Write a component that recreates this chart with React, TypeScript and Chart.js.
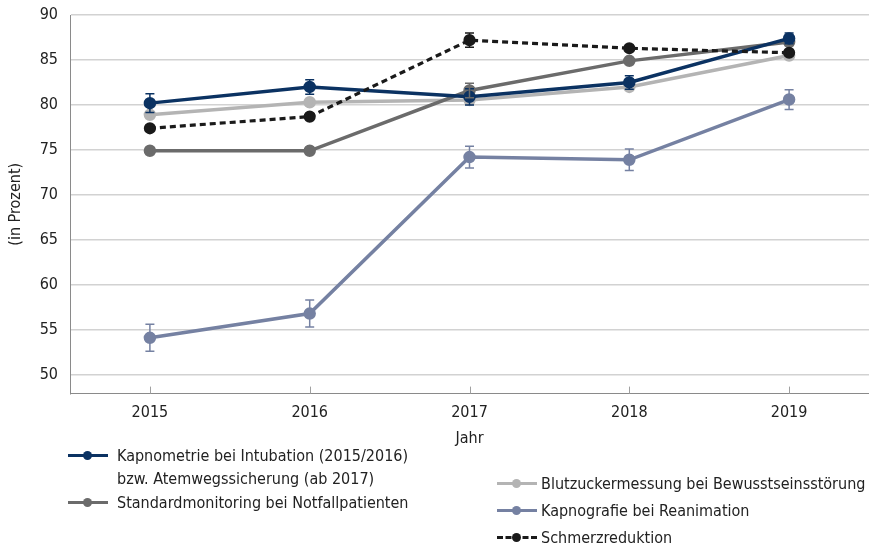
import React, { useEffect, useRef } from "react";
import { Chart, registerables } from "chart.js";

Chart.register(...registerables);

const FONT = '"Liberation Sans Narrow", "DejaVu Sans Condensed", "Noto Sans", sans-serif';

const years = ["2015", "2016", "2017", "2018", "2019"];
const yTickValues = [50, 55, 60, 65, 70, 75, 80, 85, 90];

const kapnometrie = [80.2, 82.0, 80.9, 82.5, 87.4];
const kapnometrieErr = [1.05, 0.8, 0.9, 0.75, 0.6];
const blutzucker = [78.9, 80.3, 80.55, 82.0, 85.5];
const blutzuckerErr = [0, 0, 0, 0, 0];
const standard = [74.9, 74.9, 81.6, 84.9, 87.0];
const standardErr = [0, 0, 0.8, 0, 0];
const kapnografie = [54.1, 56.8, 74.2, 73.9, 80.6];
const kapnografieErr = [1.5, 1.5, 1.2, 1.2, 1.1];
const schmerz = [77.4, 78.7, 87.2, 86.3, 85.8];
const schmerzErr = [0.3, 0.3, 0.8, 0.3, 0.3];

const C_NAVY = "#0b3262";
const C_LIGHT = "#b4b4b4";
const C_GRAY = "#6b6b6b";
const C_BLUE = "#7581a2";
const C_BLACK = "#1a1a1a";

const errorBarPlugin = {
  id: "errorBars",
  afterDatasetsDraw(chart: any) {
    const ctx = chart.ctx;
    const y = chart.scales.y;
    chart.data.datasets.forEach((ds: any, i: number) => {
      const meta = chart.getDatasetMeta(i);
      if (!ds.errors) return;
      ctx.save();
      ctx.strokeStyle = ds.errColor || ds.borderColor;
      ctx.lineWidth = 1.5;
      ctx.setLineDash([]);
      meta.data.forEach((pt: any, j: number) => {
        const e = ds.errors[j];
        if (!e) return;
        const v = ds.data[j];
        const yt = y.getPixelForValue(v + e);
        const yb = y.getPixelForValue(v - e);
        const x = pt.x;
        ctx.beginPath();
        ctx.moveTo(x, yt);
        ctx.lineTo(x, yb);
        ctx.moveTo(x - 4.5, yt);
        ctx.lineTo(x + 4.5, yt);
        ctx.moveTo(x - 4.5, yb);
        ctx.lineTo(x + 4.5, yb);
        ctx.stroke();
      });
      ctx.restore();
    });
  },
};

const innerTicksPlugin = {
  id: "innerTicks",
  afterDraw(chart: any) {
    const ctx = chart.ctx;
    const xs = chart.scales.x;
    const bottom = chart.chartArea.bottom;
    ctx.save();
    ctx.strokeStyle = "#a0a0a0";
    ctx.lineWidth = 1;
    years.forEach((_, i) => {
      const x = Math.round(xs.getPixelForValue(i)) + 0.5;
      ctx.beginPath();
      ctx.moveTo(x, bottom - 7);
      ctx.lineTo(x, bottom);
      ctx.stroke();
    });
    ctx.restore();
  },
};

function LegendItem(props: { x: number; y: number; color: string; dashed?: boolean; textOffset: number; lines: string[] }) {
  const { x, y, color, dashed, lines, textOffset } = props;
  return (
    <div style={{ position: "absolute", left: x, top: y - 12, height: 24 }}>
      <div
        style={{
          position: "absolute",
          left: 0,
          top: 11,
          width: 40,
          height: 0,
          borderTop: dashed ? `3px dashed ${color}` : `3px solid ${color}`,
        }}
      />
      <div
        style={{
          position: "absolute",
          left: 15,
          top: 8,
          width: 9,
          height: 9,
          borderRadius: "50%",
          background: color,
        }}
      />
      <div
        style={{
          position: "absolute",
          left: textOffset,
          top: 1,
          whiteSpace: "nowrap",
          fontFamily: FONT,
          fontSize: 16,
          lineHeight: "23px",
          color: "#222",
        }}
      >
        {lines.map((l, k) => (
          <div key={k}>{l}</div>
        ))}
      </div>
    </div>
  );
}

export default function App() {
  const ref = useRef<HTMLCanvasElement>(null);
  useEffect(() => {
    if (!ref.current) return;
    const mk = (label: string, data: number[], errors: number[], color: string, extra: any = {}) => ({
      label,
      data,
      errors,
      borderColor: color,
      backgroundColor: color,
      pointBackgroundColor: color,
      pointBorderColor: color,
      borderWidth: 3.5,
      pointRadius: 4.5,
      pointHoverRadius: 4.5,
      tension: 0,
      fill: false,
      ...extra,
    });
    const chart = new Chart(ref.current, {
      type: "line",
      data: {
        labels: years,
        datasets: [
          mk("Schmerzreduktion", schmerz, schmerzErr, C_BLACK, { borderDash: [6, 4], borderWidth: 3.2 }),
          mk("Kapnometrie bei Intubation (2015/2016) bzw. Atemwegssicherung (ab 2017)", kapnometrie, kapnometrieErr, C_NAVY),
          mk("Standardmonitoring bei Notfallpatienten", standard, standardErr, C_GRAY),
          mk("Blutzuckermessung bei Bewusstseinsstörung", blutzucker, blutzuckerErr, C_LIGHT),
          mk("Kapnografie bei Reanimation", kapnografie, kapnografieErr, C_BLUE),
        ],
      },
      options: {
        animation: false,
        responsive: false,
        maintainAspectRatio: false,
        layout: { padding: { top: 15, right: 0, left: 0, bottom: 93 } },
        plugins: {
          legend: { display: false },
          tooltip: { enabled: false },
        },
        scales: {
          x: {
            offset: true,
            afterFit: (s: any) => {
              s.paddingLeft = 0;
              s.paddingRight = 0;
            },
            grid: { display: false, drawTicks: false },
            border: { display: true, color: "#8a8a8a", width: 1 },
            ticks: { color: "#222", font: { family: FONT, size: 16 }, padding: 10 },
            title: {
              display: true,
              text: "Jahr",
              color: "#222",
              font: { family: FONT, size: 16 },
              padding: { top: -4, bottom: 4 },
            },
          },
          y: {
            min: 47.9,
            max: 90,
            afterBuildTicks: (s: any) => {
              s.ticks = yTickValues.map((v) => ({ value: v }));
            },
            afterFit: (s: any) => {
              s.width = 70;
              s.paddingTop = 0;
              s.paddingBottom = 0;
            },
            grid: { color: "#d2d2d2", lineWidth: 1.5, drawTicks: false },
            border: { display: true, color: "#8a8a8a", width: 1 },
            ticks: { color: "#222", font: { family: FONT, size: 16 }, padding: 12 },
            title: {
              display: true,
              text: "(in Prozent)",
              color: "#222",
              font: { family: FONT, size: 16 },
              padding: { top: 6, bottom: 0 },
            },
          },
        },
      },
      plugins: [errorBarPlugin, innerTicksPlugin],
    } as any);
    return () => chart.destroy();
  }, []);

  return (
    <div style={{ position: "absolute", left: 0, top: 0, width: 869, height: 545, background: "#fff", overflow: "hidden" }}>
      <canvas ref={ref} width={877} height={545} style={{ width: 877, height: 545, display: "block" }} />
      <LegendItem x={68} y={455} color={C_NAVY} textOffset={49} lines={["Kapnometrie bei Intubation (2015/2016)", "bzw. Atemwegssicherung (ab 2017)"]} />
      <LegendItem x={68} y={502} color={C_GRAY} textOffset={49} lines={["Standardmonitoring bei Notfallpatienten"]} />
      <LegendItem x={497} y={483} color={C_LIGHT} textOffset={44} lines={["Blutzuckermessung bei Bewusstseinsstörung"]} />
      <LegendItem x={497} y={510} color={C_BLUE} textOffset={44} lines={["Kapnografie bei Reanimation"]} />
      <LegendItem x={497} y={537} color={C_BLACK} dashed textOffset={44} lines={["Schmerzreduktion"]} />
    </div>
  );
}
